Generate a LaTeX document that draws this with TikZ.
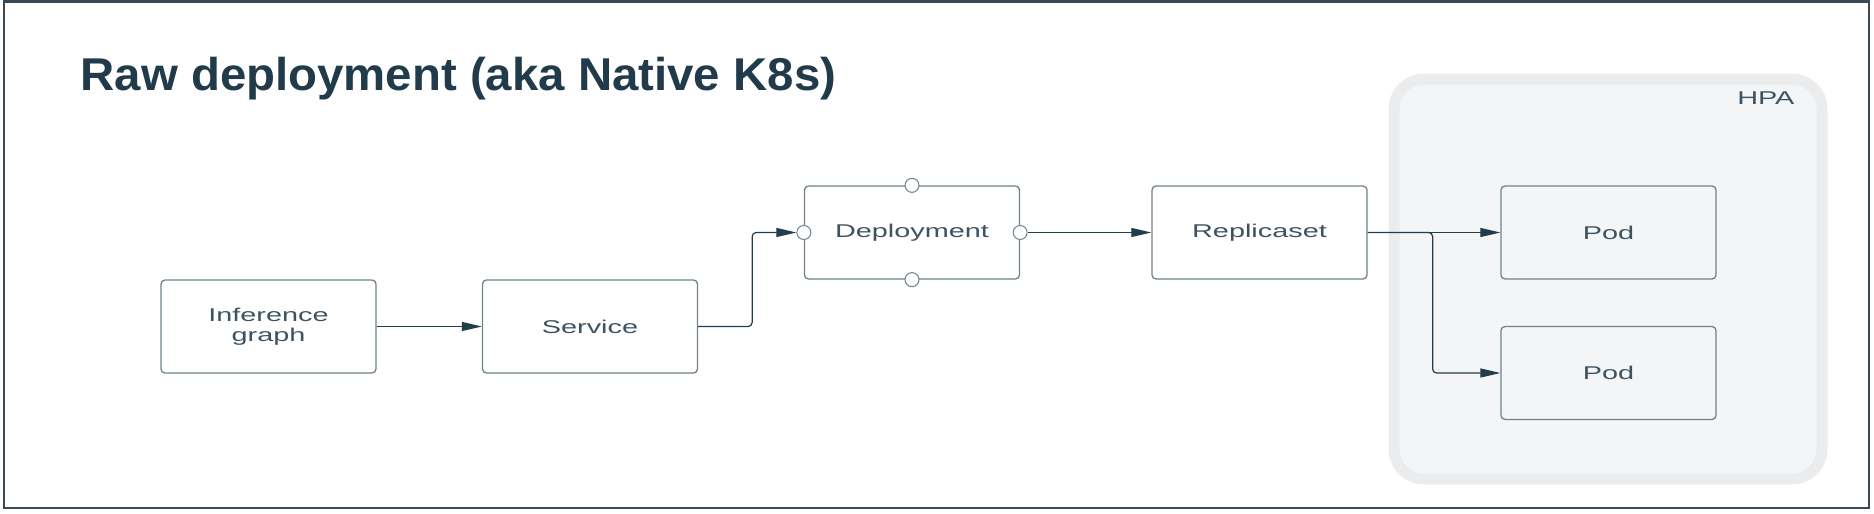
\documentclass[tikz,border=0pt]{standalone}
\usepackage{fontspec}
\setmainfont{Liberation Sans}
\newfontfamily\boxfont[FakeStretch=1.56]{Liberation Sans}
\newfontfamily\titlefont[FakeStretch=1.03]{Liberation Sans}
\usetikzlibrary{arrows.meta}

\definecolor{framegray}{HTML}{394955}
\definecolor{titleblue}{HTML}{213B4B}
\definecolor{boxgray}{HTML}{6F828D}
\definecolor{textgray}{HTML}{3E5361}
\definecolor{arrowblue}{HTML}{233D4C}
\definecolor{hpaedge}{HTML}{EAECEE}
\definecolor{hpafill}{HTML}{F4F5F7}

\begin{document}
\begin{tikzpicture}[
  x=1pt,
  y=-1pt,
  box/.style={
    draw=boxgray,
    fill=white,
    line width=1.3pt,
    rounded corners=4pt,
    minimum width=215pt,
    minimum height=93pt,
    align=center,
    text=textgray,
    font=\boxfont\fontsize{18.5}{20.5}\selectfont
  },
  podbox/.style={
    box,
    fill=hpafill
  },
  port/.style={
    circle,
    draw=boxgray,
    fill=white,
    line width=1pt,
    minimum size=14pt,
    inner sep=0pt
  },
  conn/.style={
    draw=arrowblue,
    line width=1.2pt,
    rounded corners=4pt,
    -{Triangle[length=20pt,width=9pt]}
  },
]
\useasboundingbox (0,0) rectangle (1874,514);
\draw[framegray, line width=2.5pt] (4,1.5) rectangle (1869,508);

\node[anchor=base west, text=titleblue,
  font=\titlefont\fontsize{46}{50}\selectfont\bfseries] (title) at (77,90)
  {Raw deployment (aka Native K8s)};

% HPA group
\draw[draw=hpaedge, fill=hpafill, line width=11pt, rounded corners=30pt]
  (1394,79) rectangle (1822,479);
\node[anchor=base east, text=textgray,
  font=\boxfont\fontsize{18.5}{20}\selectfont] (hpa) at (1798,104) {HPA};

% boxes
\node[box] (infgraph) at (268.5,326.5) {Inference\\graph};
\node[box] (service) at (590,326.5) {Service};
\node[box] (deploy) at (912,232.5) {Deployment};
\node[box] (replica) at (1259.5,232.5) {Replicaset};
\node[podbox] (podA) at (1608.5,232.5) {Pod};
\node[podbox] (podB) at (1608.5,373) {Pod};

% ports of the deployment
\node[port] (portW) at (deploy.west) {};
\node[port] (portE) at (deploy.east) {};
\node[port] (portN) at (deploy.north) {};
\node[port] (portS) at (deploy.south) {};

% connectors
\draw[conn] (infgraph.east) -- (service.west);
\draw[conn] (service.east) -- ++(54,0) |- (portW.west);
\draw[conn] (portE.east) -- (replica.west);
\draw[conn] (replica.east) -- (podA.west);
\draw[conn] (replica.east) -- ++(65,0) |- (podB.west);
\end{tikzpicture}
\end{document}
